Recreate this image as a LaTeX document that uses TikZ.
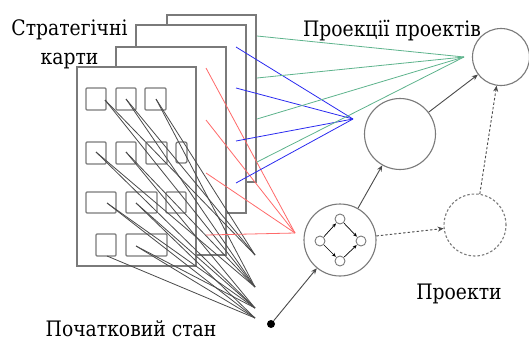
\documentclass[tikz,border=0pt]{standalone}
\usepackage{fontspec}
\setmainfont{DejaVu Serif}
\newfontfamily\lblfont{DejaVu Serif}[FakeStretch=0.88]
\usetikzlibrary{arrows.meta}
\definecolor{sheetgray}{HTML}{7A7A7A}
\definecolor{linegray}{HTML}{4A4A4A}
\definecolor{gline}{HTML}{5DB38C}
\definecolor{bline}{HTML}{2A2AF0}
\definecolor{rline}{HTML}{FF6A6A}
\begin{document}
\begin{tikzpicture}[x=1pt,y=-1pt,
  sheet/.style={draw=sheetgray,fill=white,line width=1.3pt},
  cell/.style={draw=sheetgray,line width=1.3pt,rounded corners=1pt},
  tie/.style={draw=linegray,line width=0.8pt},
  gtie/.style={draw=gline,line width=0.8pt},
  btie/.style={draw=bline,line width=0.8pt},
  rtie/.style={draw=rline,line width=0.8pt},
  state/.style={circle,draw=sheetgray,line width=1.1pt,fill=white,inner sep=0pt},
  mini/.style={circle,draw=sheetgray,line width=0.9pt,fill=white,inner sep=0pt,minimum size=10pt},
  arr/.style={draw=linegray,line width=0.9pt,-{Stealth[length=6pt,width=5pt]}},
  darr/.style={arr,dash pattern=on 2.5pt off 2pt},
  marr/.style={draw=black,line width=0.7pt,-{Stealth[length=4pt,width=3.5pt]},shorten <=0.5pt,shorten >=0.5pt},
  lbl/.style={font=\lblfont\fontsize{21.3}{24}\selectfont,anchor=base,inner sep=0pt}
]
\useasboundingbox (0,0) rectangle (529,340);

% sheets (back to front)
\draw[sheet] (167,15) rectangle (256,182);
\draw[sheet] (136,25) rectangle (246,213);
\draw[sheet] (116,47) rectangle (226,255);
\draw[sheet] (77,67) rectangle (196,266);

% cells on the front sheet
\draw[cell] (86,88) rectangle (106,110);
\draw[cell] (116,88) rectangle (136,110);
\draw[cell] (145,88) rectangle (166,110);
\draw[cell] (86,142) rectangle (106,164);
\draw[cell] (116,142) rectangle (136,164);
\draw[cell] (146,142) rectangle (167,164);
\draw[cell,rounded corners=2pt] (176,142) rectangle (187,163);
\draw[cell] (86,192) rectangle (116,213);
\draw[cell] (126,192) rectangle (157,213);
\draw[cell] (166,192) rectangle (186,213);
\draw[cell] (96,234) rectangle (116,256);
\draw[cell] (126,234) rectangle (167,256);

% start points
\coordinate (s1) at (105,100);
\coordinate (s2) at (126,99);
\coordinate (s3) at (156,99);
\coordinate (s4) at (96,152);
\coordinate (s5) at (126,152);
\coordinate (s6) at (107,203);
\coordinate (s7) at (136,203);
\coordinate (s8) at (107,256);
\coordinate (s9) at (136,246);
% end points
\coordinate (e1) at (255,255);
\coordinate (e2) at (255,287);
\coordinate (e3) at (255,308);
\coordinate (e4) at (255,318);

\draw[tie] (s1) -- (e1);
\draw[tie] (s1) -- (e2);
\draw[tie] (s2) -- (e1);
\draw[tie] (s2) -- (e2);
\draw[tie] (s3) -- (e1);
\draw[tie] (s3) -- (e2);
\draw[tie] (s4) -- (e2);
\draw[tie] (s4) -- (e3);
\draw[tie] (s5) -- (e2);
\draw[tie] (s5) -- (e3);
\draw[tie] (s6) -- (e3);
\draw[tie] (s6) -- (e4);
\draw[tie] (s7) -- (e3);
\draw[tie] (s7) -- (e4);
\draw[tie] (s8) -- (e4);
\draw[tie] (s9) -- (e3);
\draw[tie] (s9) -- (e4);

% red
\coordinate (R) at (295,233);
\coordinate (r1) at (206,68);
\coordinate (r2) at (206,120);
\coordinate (r3) at (206,173);
\coordinate (r4) at (206,235);
\foreach \p in {r1,r2,r3,r4} \draw[rtie] (\p) -- (R);
% blue
\coordinate (B) at (353,119);
\coordinate (b1) at (236,47);
\coordinate (b2) at (236,88);
\coordinate (b3) at (236,141);
\coordinate (b4) at (236,183);
\foreach \p in {b1,b2,b3,b4} \draw[btie] (\p) -- (B);
% green
\coordinate (G) at (464,57);
\coordinate (g1) at (257,36);
\coordinate (g2) at (257,78);
\coordinate (g3) at (257,119);
\coordinate (g4) at (257,162);
\foreach \p in {g1,g2,g3,g4} \draw[gtie] (\p) -- (G);

% states
\node[state,minimum size=57pt] (P1) at (501,57) {};
\node[state,minimum size=71pt] (P2) at (400,134) {};
\node[state,minimum size=72pt] (C) at (340,240) {};
\node[state,minimum size=62pt,dash pattern=on 2.5pt off 2pt] (D) at (475,225) {};
\node[circle,fill=black,inner sep=0pt,minimum size=8pt] (dot) at (271,324) {};

% mini cycle
\node[mini] (mt) at (340,219) {};
\node[mini] (ml) at (320,241) {};
\node[mini] (mr) at (361,241) {};
\node[mini] (mb) at (340,261) {};
\draw[marr] (ml) -- (mt);
\draw[marr] (mt) -- (mr);
\draw[marr] (ml) -- (mb);
\draw[marr] (mb) -- (mr);

% arrows
\draw[arr] (dot) -- (C);
\draw[arr] (C) -- (P2);
\draw[arr] (P2) -- (P1);
\draw[darr] (C) -- (D);
\draw[darr] (D) -- (P1);

% labels
\node[lbl] (t1) at (69.5,35) {Стратегічні};
\node[lbl] (t2) at (69.5,64) {карти};
\node[lbl] (t3) at (392,36) {Проекції проектів};
\node[lbl] (t4) at (459,299) {Проекти};
\node[lbl] (t5) at (131,336) {Початковий стан};
\end{tikzpicture}
\end{document}
